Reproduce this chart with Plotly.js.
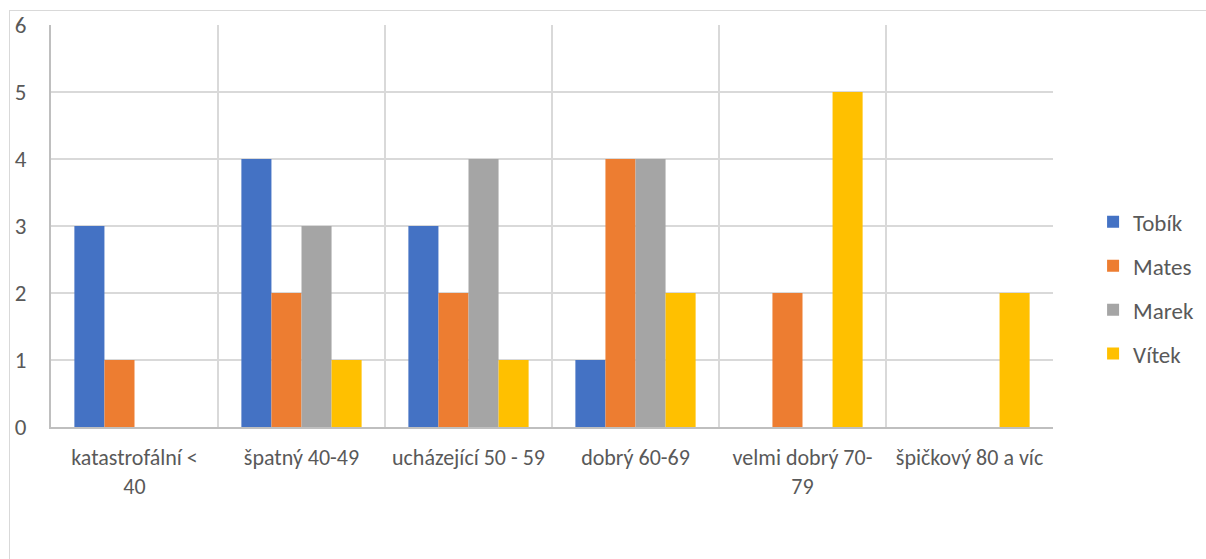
<!DOCTYPE html>
<html><head><meta charset="utf-8">
<script src="https://cdn.plot.ly/plotly-3.0.1.min.js"></script>
<style>
html,body{margin:0;padding:0;background:#fff;}
#frame{position:absolute;left:9px;top:10px;width:1300px;height:600px;border-left:1px solid #d9d9d9;border-top:1px solid #d9d9d9;pointer-events:none;}
#chart{position:absolute;left:0;top:0;width:1206px;height:559px;}
</style></head>
<body>
<div id="chart"></div>
<div id="frame"></div>
<script>
const categories = ["katastrofální <<br>40","špatný 40-49","ucházející 50 - 59","dobrý 60-69","velmi dobrý 70-<br>79","špičkový 80 a víc"];
const tobik = [3,4,3,1,0,0];
const mates = [1,2,2,4,2,0];
const marek = [0,3,4,4,0,0];
const vitek = [0,1,1,2,5,2];
const names = ["Tobík","Mates","Marek","Vítek"];
const colors = ["#4472C4","#ED7D31","#A5A5A5","#FFC000"];
const series = [tobik, mates, marek, vitek];
const font = "Carlito, Calibri, Lato, sans-serif";
const data = series.map((s,i)=>({
  type:'bar', x:categories, y:s, name:names[i], legendgroup:'g'+i,
  marker:{color:colors[i], line:{width:0}}
}));
const layout = {
  width:1206, height:559,
  margin:{l:51, r:153, t:25, b:132, autoexpand:false},
  paper_bgcolor:'rgba(0,0,0,0)', plot_bgcolor:'#fff',
  font:{family:font, size:22, color:'#595959'},
  barmode:'group', bargap:0.28, bargroupgap:0,
  xaxis:{type:'category', tickson:'boundaries', showgrid:true, gridcolor:'#d9d9d9', gridwidth:1.5,
    showline:true, linecolor:'#bfbfbf', linewidth:2, ticks:'', ticklabelstandoff:10, tickangle:0,
    tickfont:{size:22, color:'#595959'}, fixedrange:true, mirror:false, automargin:false},
  yaxis:{range:[0,6], dtick:1, showgrid:true, gridcolor:'#d9d9d9', gridwidth:1.5,
    showline:true, linecolor:'#bfbfbf', linewidth:2, zeroline:false, ticks:'', ticklabelstandoff:18,
    tickfont:{size:23, color:'#595959'}, automargin:false},
  legend:{x:1.040, xanchor:'left', y:0.346, yanchor:'middle', font:{size:23, color:'#595959'},
    tracegroupgap:11, itemwidth:30, bgcolor:'rgba(0,0,0,0)'},
  showlegend:true
};
Plotly.newPlot('chart', data, layout, {displayModeBar:false, staticPlot:true});
</script>
</body></html>
